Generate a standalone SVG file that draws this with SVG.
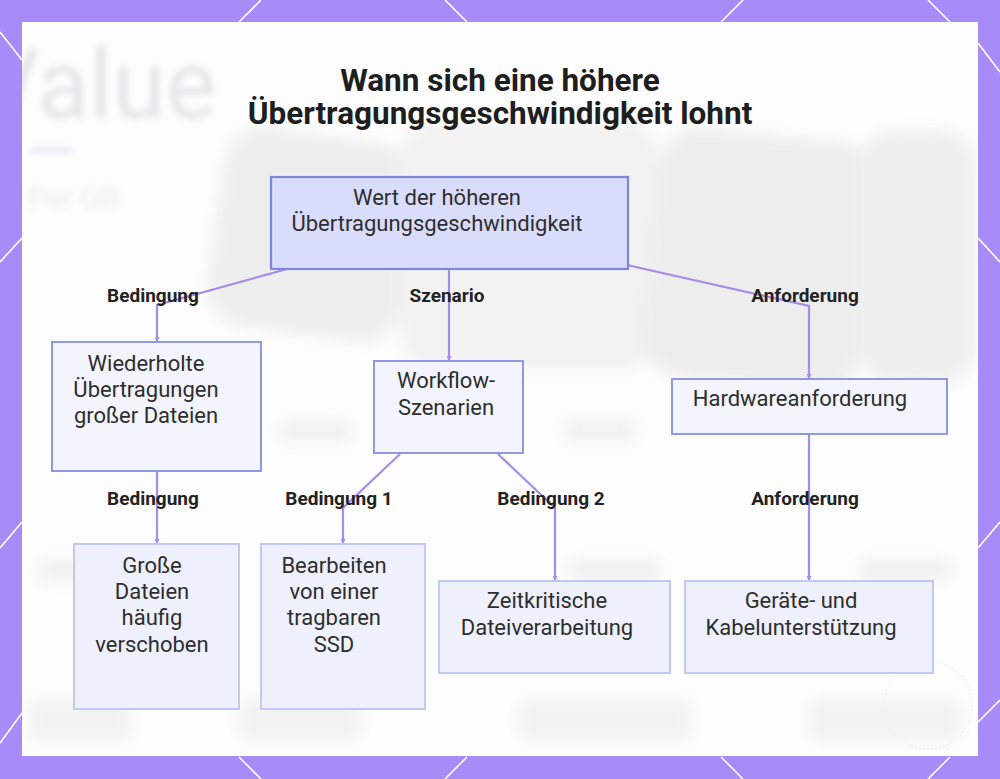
<svg xmlns="http://www.w3.org/2000/svg" width="1000" height="779" viewBox="0 0 1000 779">
<defs>
<filter id="blur" x="-20%" y="-20%" width="140%" height="140%"><feGaussianBlur stdDeviation="7"/></filter>
<filter id="blur2" x="-20%" y="-20%" width="140%" height="140%"><feGaussianBlur stdDeviation="3"/></filter>
<clipPath id="panelclip"><rect x="22" y="22" width="956" height="734"/></clipPath>
<marker id="arr" viewBox="0 0 10 10" refX="10" refY="5" markerWidth="5" markerHeight="5" orient="auto" markerUnits="userSpaceOnUse">
<path d="M0,0 L10,5 L0,10 z" fill="#a58ce8"/>
</marker>
<style>
.node-text{font-family:Roboto,"Liberation Sans",sans-serif;font-size:22px;fill:#2e2e2e;text-anchor:middle}
.lbl{font-family:Roboto,"Liberation Sans",sans-serif;font-size:19px;font-weight:bold;fill:#222;text-anchor:middle}
.title{font-family:Roboto,"Liberation Sans",sans-serif;font-size:31.5px;font-weight:bold;fill:#1e1e1e;text-anchor:middle}
.edge{fill:none;stroke:#a58ce8;stroke-width:2.2;marker-end:url(#arr)}
.root{fill:#d9dcfb;stroke:#7b86dc;stroke-width:2.2}
.mid{fill:#f3f4fe;stroke:#8e99e4;stroke-width:2}
.leaf{fill:#eef0fd;stroke:#c2c8f2;stroke-width:2}
.deco{stroke:#ffffff;stroke-width:1.6;fill:none}
</style>
</defs>
<!-- purple frame -->
<rect x="0" y="0" width="1000" height="779" fill="#a78bf7"/>
<g class="deco">
<line x1="239" y1="22" x2="261" y2="0"/>
<line x1="445" y1="0" x2="467" y2="22"/>
<line x1="721" y1="22" x2="743" y2="0"/>
<line x1="928" y1="0" x2="950" y2="22"/>
<line x1="239" y1="757" x2="261" y2="779"/>
<line x1="445" y1="779" x2="467" y2="757"/>
<line x1="721" y1="757" x2="743" y2="779"/>
<line x1="928" y1="779" x2="950" y2="757"/>
<line x1="0" y1="32" x2="22" y2="60"/>
<line x1="0" y1="262" x2="22" y2="238"/>
<line x1="0" y1="743" x2="22" y2="713"/>
<line x1="0" y1="548" x2="22" y2="522"/>
<line x1="978" y1="43" x2="1000" y2="72"/>
<line x1="978" y1="238" x2="1000" y2="262"/>
<line x1="978" y1="548" x2="1000" y2="522"/>
<line x1="978" y1="722" x2="1000" y2="700"/>
</g>
<!-- panel -->
<rect x="22" y="22" width="956" height="734" fill="#fdfdfd"/>
<!-- blurred background picture -->
<g clip-path="url(#panelclip)">
<g filter="url(#blur)" opacity="0.9">
<rect x="215" y="135" width="195" height="200" rx="40" fill="#ededee" transform="rotate(8 312 235)"/>
<rect x="400" y="120" width="260" height="250" rx="40" fill="#f1f1f2"/>
<rect x="650" y="135" width="220" height="250" rx="40" fill="#ececed" transform="rotate(6 760 260)"/>
<rect x="860" y="130" width="115" height="255" rx="35" fill="#eeeeef"/>
<rect x="280" y="420" width="70" height="22" fill="#f0f0f0"/>
<rect x="565" y="420" width="70" height="22" fill="#f0f0f0"/>
<rect x="40" y="560" width="60" height="22" fill="#f0f0f0"/>
<rect x="570" y="560" width="90" height="22" fill="#f0f0f0"/>
<rect x="860" y="560" width="90" height="22" fill="#f0f0f0"/>
<rect x="30" y="700" width="100" height="40" fill="#f1f1f1"/>
<rect x="240" y="700" width="120" height="40" fill="#f1f1f1"/>
<rect x="520" y="700" width="170" height="40" fill="#f1f1f1"/>
<rect x="810" y="700" width="150" height="40" fill="#f1f1f1"/>
</g>
<g filter="url(#blur2)">
<text x="-22" y="118" font-family="Roboto,'Liberation Sans',sans-serif" font-size="96" fill="#e6e6e8">Value</text>
<rect x="30" y="148" width="42" height="4" fill="#dfe4f5"/>
<text x="28" y="208" font-family="Roboto,'Liberation Sans',sans-serif" font-size="30" fill="#ececec">Per GB</text>
</g>
<circle cx="928" cy="705" r="44" fill="none" stroke="#f0f0f0" stroke-width="1.2" stroke-dasharray="2 2"/>
</g>
<!-- title -->
<text class="title" x="500" y="91">Wann sich eine höhere</text>
<text class="title" x="500" y="124">Übertragungsgeschwindigkeit lohnt</text>
<!-- connectors -->
<g id="connectors">
<polyline class="edge" points="287,269 157,305 157,342"/>
<polyline class="edge" points="449,269 449,361"/>
<polyline class="edge" points="627,265 809,306 809,379"/>
<polyline class="edge" points="157,471 157,544"/>
<polyline class="edge" points="400,454 343,508 343,544"/>
<polyline class="edge" points="498,454 555,508 555,581"/>
<polyline class="edge" points="809,434 809,581"/>
<text class="lbl" x="153" y="302">Bedingung</text>
<text class="lbl" x="447" y="302">Szenario</text>
<text class="lbl" x="805" y="302">Anforderung</text>
<text class="lbl" x="153" y="505">Bedingung</text>
<text class="lbl" x="339" y="505">Bedingung 1</text>
<text class="lbl" x="551" y="505">Bedingung 2</text>
<text class="lbl" x="805" y="505">Anforderung</text>
</g>
<!-- nodes -->
<g id="node-root">
<rect class="root" x="271" y="177" width="357" height="92"/>
<text class="node-text" x="437" y="205">Wert der höheren</text>
<text class="node-text" x="437" y="231">Übertragungsgeschwindigkeit</text>
</g>
<g id="node-wiederholte">
<rect class="mid" x="52" y="342" width="209" height="129"/>
<text class="node-text" x="146" y="371">Wiederholte</text>
<text class="node-text" x="146" y="397">Übertragungen</text>
<text class="node-text" x="146" y="423">großer Dateien</text>
</g>
<g id="node-workflow">
<rect class="mid" x="374" y="361" width="149" height="92"/>
<text class="node-text" x="446" y="388">Workflow-</text>
<text class="node-text" x="446" y="415">Szenarien</text>
</g>
<g id="node-hardware">
<rect class="mid" x="672" y="379" width="275" height="55"/>
<text class="node-text" x="800" y="406">Hardwareanforderung</text>
</g>
<g id="node-grosse">
<rect class="leaf" x="74" y="544" width="165" height="165"/>
<text class="node-text" x="152" y="573">Große</text>
<text class="node-text" x="152" y="599">Dateien</text>
<text class="node-text" x="152" y="625">häufig</text>
<text class="node-text" x="152" y="652">verschoben</text>
</g>
<g id="node-bearbeiten">
<rect class="leaf" x="261" y="544" width="164" height="165"/>
<text class="node-text" x="334" y="573">Bearbeiten</text>
<text class="node-text" x="334" y="599">von einer</text>
<text class="node-text" x="334" y="625">tragbaren</text>
<text class="node-text" x="334" y="652">SSD</text>
</g>
<g id="node-zeitkritisch">
<rect class="leaf" x="439" y="581" width="231" height="92"/>
<text class="node-text" x="547" y="608">Zeitkritische</text>
<text class="node-text" x="547" y="635">Dateiverarbeitung</text>
</g>
<g id="node-geraete">
<rect class="leaf" x="685" y="581" width="248" height="92"/>
<text class="node-text" x="801" y="608">Geräte- und</text>
<text class="node-text" x="801" y="635">Kabelunterstützung</text>
</g>
</svg>
